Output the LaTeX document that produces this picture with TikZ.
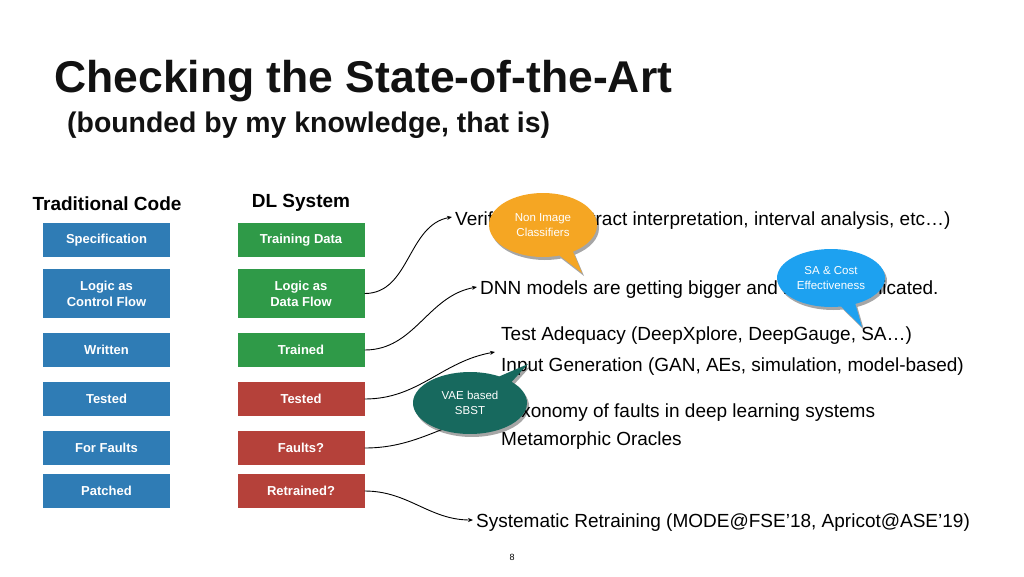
\documentclass[tikz,border=0pt]{standalone}
\usepackage{fontspec}
\setmainfont{Liberation Sans}
\usetikzlibrary{shapes.callouts,shapes.geometric,shadows,arrows.meta}
\definecolor{tblue}{HTML}{2F7CB5}
\definecolor{tgreen}{HTML}{2F9A48}
\definecolor{tred}{HTML}{B5413A}
\definecolor{borange}{HTML}{F5A623}
\definecolor{bblue}{HTML}{1DA1F0}
\definecolor{bteal}{HTML}{17695E}
\begin{document}
\begin{tikzpicture}[x=1pt,y=-1pt,
  box/.style={fill=#1, text=white, font=\fontsize{13}{16}\selectfont\bfseries,
    minimum width=127pt, inner sep=0pt, align=center},
  hdr/.style={font=\fontsize{19}{22}\selectfont\bfseries, inner sep=0pt},
  item/.style={anchor=base west, inner sep=0pt, font=\fontsize{19}{22}\selectfont},
  conn/.style={line width=0.9pt, -{Stealth[length=5pt,width=4pt]}},
  bubble/.style={ellipse callout, fill=#1, text=white, inner sep=0pt,
    font=\fontsize{11.5}{14.5}\selectfont, align=center, callout pointer arc=16,
    drop shadow={shadow xshift=2pt, shadow yshift=-3pt, opacity=0.35, fill=black}}
]
\useasboundingbox (0,0) rectangle (1024,576);
\fill[white] (0,0) rectangle (1024,576);

% titles
\node[anchor=base west, inner sep=0pt, font=\fontsize{44.5}{50}\selectfont\bfseries, text=black!93] (title) at (54,92) {Checking the State-of-the-Art};
\node[anchor=base west, inner sep=0pt, font=\fontsize{28.4}{32}\selectfont\bfseries, text=black!93] (subtitle) at (67,132) {(bounded by my knowledge, that is)};

% headers
\node[hdr] (hleft) at (107,204) {Traditional Code};
\node[hdr] (hright) at (301,203) {DL System};

% left column
\node[box=tblue, minimum height=34pt] (spec) at (106.5,240) {Specification};
\node[box=tblue, minimum height=49pt] (logicc) at (106.5,293.5) {Logic as\\Control Flow};
\node[box=tblue, minimum height=34pt] (written) at (106.5,350) {Written};
\node[box=tblue, minimum height=34pt] (testedl) at (106.5,399) {Tested};
\node[box=tblue, minimum height=34pt] (faultsl) at (106.5,448) {For Faults};
\node[box=tblue, minimum height=34pt] (patched) at (106.5,491) {Patched};

% right column
\node[box=tgreen, minimum height=34pt] (train) at (301,240) {Training Data};
\node[box=tgreen, minimum height=49pt] (logicd) at (301,293.5) {Logic as\\Data Flow};
\node[box=tgreen, minimum height=34pt] (trained) at (301,350) {Trained};
\node[box=tred, minimum height=34pt] (testedr) at (301,399) {Tested};
\node[box=tred, minimum height=34pt] (faultsr) at (301,448) {Faults?};
\node[box=tred, minimum height=34pt] (retrained) at (301,491) {Retrained?};

% items
\node[item] (verif) at (455,225) {Verification (abstract interpretation, interval analysis, etc\ldots)};
\node[item] (dnn) at (480,294) {DNN models are getting bigger and more complicated.};
\node[item] (adeq) at (501,340) {Test Adequacy (DeepXplore, DeepGauge, SA\ldots)};
\node[item] (inputgen) at (501,371) {Input Generation (GAN, AEs, simulation, model-based)};
\node[item] (taxo) at (501,417) {Taxonomy of faults in deep learning systems};
\node[item] (meta) at (501,445) {Metamorphic Oracles};
\node[item] (retr) at (476,527) {Systematic Retraining (MODE@FSE’18, Apricot@ASE’19)};
\node[anchor=base, inner sep=0pt, font=\fontsize{9}{10}\selectfont] (page) at (512,560) {8};

% connectors
\coordinate (inarrow) at (495,352);
\coordinate (taxarrow) at (494,414);
\draw[conn] (logicd.east) to[out=0, in=190] ([xshift=-3pt,yshift=8pt]verif.base west);
\draw[conn] (trained.east) to[out=0, in=190] ([xshift=-3pt,yshift=7pt]dnn.base west);
\draw[conn] (testedr.east) to[out=0, in=190] (inarrow);
\draw[conn] (faultsr.east) to[out=0, in=190] (taxarrow);
\draw[conn] (retrained.east) to[out=0, in=180] ([xshift=-3pt,yshift=7pt]retr.base west);

% bubbles
\node[bubble=borange, minimum width=108pt, minimum height=64pt,
  callout absolute pointer={(582,273)}] (nonimg) at (543,225) {Non Image\\Classifiers};
\node[bubble=bblue, minimum width=108pt, minimum height=58pt,
  callout absolute pointer={(862,327)}] (sacost) at (831,278) {SA \& Cost\\Effectiveness};
\node[bubble=bteal, minimum width=114pt, minimum height=62pt,
  callout absolute pointer={(528,364)}] (vae) at (470,403) {VAE based\\SBST};
\end{tikzpicture}
\end{document}
